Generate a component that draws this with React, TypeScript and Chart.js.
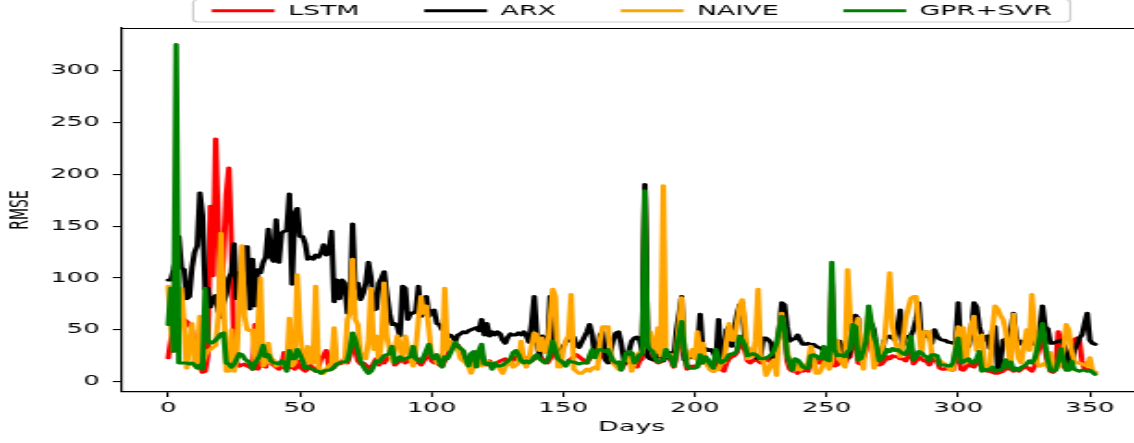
import React, { useEffect, useRef } from "react";
import { Chart, registerables } from "chart.js";

Chart.register(...registerables);

// Horizontal stretch of the reference picture (text and strokes look stretched sideways)
const STRETCH = 1.85;
const CANVAS_W = 620;
const CANVAS_H = 443;
const FONT = "'DejaVu Sans', sans-serif";
const LEGEND_PAD = 35;

const seriesNames = ["LSTM", "ARX", "NAIVE", "GPR+SVR"];
const seriesColors = ["#ff0000", "#000000", "#ffa500", "#008000"];
const xTickValues = [0, 50, 100, 150, 200, 250, 300, 350];
const yTickValues = [0, 50, 100, 150, 200, 250, 300];

const lstm = [
  23, 40, 60, 55, 50, 60, 60, 58, 55, 50,
  30, 20, 15, 9, 10, 25, 169, 102, 234, 150,
  85, 120, 180, 206, 130, 30, 18, 15, 16, 17,
  15, 14, 12, 55, 12, 18, 15, 14, 30, 18,
  16, 14, 12, 14, 28, 12, 16, 14, 12, 20,
  14, 12, 10, 12, 16, 12, 10, 14, 22, 25,
  30, 15, 12, 14, 20, 17, 18, 22, 18, 25,
  42, 30, 20, 17, 18, 16, 14, 12, 18, 22,
  16, 20, 18, 22, 24, 28, 16, 18, 20, 22,
  18, 20, 22, 26, 18, 22, 16, 20, 24, 28,
  20, 18, 20, 16, 15, 20, 25, 30, 35, 36,
  35, 30, 25, 20, 18, 22, 20, 16, 25, 28,
  18, 16, 20, 14, 16, 18, 20, 21, 22, 18,
  17, 22, 24, 20, 22, 24, 22, 21, 20, 22,
  24, 25, 22, 20, 18, 22, 30, 26, 20, 18,
  16, 17, 20, 22, 24, 26, 24, 22, 20, 18,
  22, 26, 24, 26, 28, 25, 22, 24, 20, 18,
  16, 14, 12, 16, 20, 22, 24, 16, 14, 20,
  22, 178, 26, 24, 22, 20, 18, 19, 22, 28,
  24, 20, 14, 24, 40, 50, 26, 12, 14, 15,
  14, 16, 22, 18, 20, 16, 12, 10, 24, 18,
  12, 10, 18, 22, 24, 25, 28, 38, 35, 30,
  20, 18, 20, 22, 20, 18, 20, 22, 20, 24,
  26, 32, 45, 58, 48, 20, 12, 10, 14, 8,
  12, 10, 12, 10, 20, 22, 20, 18, 18, 28,
  18, 16, 95, 15, 16, 20, 20, 18, 22, 24,
  45, 42, 18, 17, 22, 30, 60, 48, 35, 24,
  16, 17, 20, 24, 22, 25, 24, 24, 22, 22,
  20, 24, 36, 17, 20, 24, 22, 20, 20, 16,
  20, 22, 20, 13, 12, 12, 14, 12, 11, 22,
  36, 12, 11, 14, 18, 15, 14, 18, 24, 12,
  14, 10, 10, 9, 8, 8, 9, 10, 14, 12,
  14, 10, 12, 10, 12, 14, 14, 12, 10, 15,
  25, 35, 48, 30, 18, 10, 9, 12, 48, 40,
  15, 12, 20, 30, 40, 42, 40, 20, 12, 11,
  12, 10, 9,
];

const arx = [
  98, 98, 108, 120, 140, 110, 108, 80, 82, 110,
  125, 131, 182, 160, 89, 90, 72, 80, 83, 68,
  62, 76, 84, 100, 105, 133, 80, 105, 100, 130,
  130, 70, 118, 73, 108, 105, 115, 120, 147, 120,
  116, 156, 115, 143, 145, 146, 181, 94, 162, 167,
  140, 140, 133, 118, 120, 118, 122, 120, 124, 132,
  122, 125, 145, 77, 98, 80, 98, 95, 66, 70,
  152, 90, 95, 79, 85, 95, 115, 100, 69, 70,
  95, 100, 106, 85, 66, 55, 56, 53, 44, 92,
  90, 60, 66, 66, 68, 92, 63, 66, 82, 63,
  68, 69, 56, 55, 50, 49, 44, 45, 43, 39,
  45, 46, 48, 47, 49, 50, 51, 52, 49, 60,
  45, 56, 44, 48, 45, 48, 46, 40, 37, 43,
  46, 45, 45, 47, 45, 48, 44, 38, 56, 82,
  44, 23, 44, 35, 30, 82, 40, 31, 24, 30,
  34, 38, 40, 41, 43, 35, 33, 38, 43, 48,
  55, 45, 25, 30, 45, 48, 21, 18, 30, 40,
  47, 48, 37, 21, 18, 30, 39, 42, 43, 40,
  30, 190, 24, 22, 21, 22, 30, 26, 20, 24,
  27, 28, 22, 50, 65, 82, 21, 22, 23, 27,
  30, 31, 65, 30, 32, 30, 31, 28, 22, 60,
  21, 24, 50, 53, 34, 50, 65, 74, 76, 40,
  31, 31, 30, 24, 22, 25, 42, 42, 40, 37,
  15, 27, 50, 76, 74, 53, 39, 41, 41, 45,
  40, 36, 36, 37, 35, 36, 34, 33, 32, 30,
  26, 22, 28, 34, 39, 39, 31, 22, 23, 31,
  56, 64, 61, 22, 24, 40, 48, 56, 50, 31,
  28, 26, 40, 43, 44, 42, 40, 53, 69, 35,
  44, 43, 44, 50, 60, 76, 42, 43, 48, 45,
  37, 50, 44, 41, 40, 40, 38, 38, 37, 37,
  76, 30, 33, 34, 34, 50, 76, 72, 53, 44,
  40, 44, 32, 50, 53, 12, 18, 40, 41, 43,
  48, 66, 44, 36, 39, 38, 39, 40, 36, 40,
  44, 50, 73, 53, 51, 37, 37, 38, 39, 40,
  36, 30, 20, 15, 30, 35, 42, 45, 56, 66,
  40, 37, 36,
];

const naive = [
  92, 50, 30, 90, 90, 90, 55, 13, 37, 56,
  15, 15, 63, 18, 25, 30, 31, 33, 35, 63,
  143, 79, 10, 10, 50, 10, 23, 76, 131, 63,
  50, 49, 50, 18, 50, 100, 15, 18, 37, 18,
  21, 15, 18, 18, 15, 15, 61, 15, 18, 103,
  50, 21, 18, 34, 18, 18, 92, 15, 10, 8,
  12, 15, 18, 52, 18, 18, 19, 18, 60, 66,
  118, 60, 55, 27, 27, 22, 40, 90, 31, 44,
  19, 40, 95, 44, 31, 20, 30, 44, 35, 21,
  44, 32, 22, 15, 31, 60, 82, 66, 73, 50,
  24, 24, 18, 21, 18, 90, 31, 39, 34, 37,
  31, 22, 20, 18, 15, 8, 15, 26, 30, 15,
  18, 20, 18, 18, 18, 16, 12, 8, 14, 18,
  20, 14, 16, 18, 39, 20, 14, 22, 35, 47,
  45, 30, 42, 28, 30, 60, 89, 82, 14, 14,
  30, 40, 44, 84, 12, 10, 8, 8, 10, 12,
  10, 13, 14, 12, 40, 53, 53, 53, 28, 18,
  15, 12, 16, 20, 22, 24, 10, 18, 26, 28,
  28, 50, 45, 48, 38, 28, 52, 25, 189, 28,
  24, 26, 18, 31, 56, 81, 30, 21, 26, 31,
  22, 48, 28, 37, 18, 15, 11, 10, 11, 12,
  18, 18, 40, 56, 40, 40, 56, 73, 79, 56,
  22, 31, 24, 40, 89, 21, 21, 6, 11, 18,
  21, 6, 50, 66, 46, 31, 18, 14, 11, 16,
  11, 14, 16, 18, 34, 26, 8, 8, 12, 18,
  21, 12, 20, 40, 40, 21, 18, 14, 108, 60,
  40, 50, 61, 30, 12, 45, 66, 45, 13, 20,
  24, 30, 40, 70, 105, 53, 40, 31, 24, 37,
  60, 70, 80, 82, 82, 53, 26, 48, 48, 48,
  26, 26, 22, 20, 18, 17, 15, 11, 11, 34,
  53, 25, 52, 18, 40, 55, 63, 30, 40, 45,
  15, 12, 13, 50, 73, 70, 64, 60, 50, 30,
  15, 65, 40, 22, 18, 35, 50, 30, 84, 50,
  18, 15, 16, 18, 14, 28, 18, 12, 14, 20,
  30, 55, 50, 30, 20, 18, 18, 17, 16, 15,
  23, 10, 9,
];

const gprSvr = [
  55, 90, 29, 325, 18, 18, 18, 18, 17, 18,
  16, 13, 16, 12, 90, 40, 37, 38, 40, 43,
  46, 47, 18, 17, 14, 17, 22, 27, 26, 22,
  20, 18, 12, 18, 22, 26, 35, 24, 26, 20,
  18, 18, 17, 20, 18, 10, 30, 22, 22, 31,
  26, 20, 13, 14, 13, 12, 10, 10, 8, 10,
  11, 11, 12, 14, 17, 18, 19, 19, 20, 30,
  47, 40, 30, 20, 15, 11, 8, 10, 15, 20,
  19, 22, 25, 26, 27, 34, 18, 21, 24, 21,
  22, 23, 24, 34, 22, 20, 19, 24, 30, 36,
  24, 22, 26, 19, 14, 24, 22, 27, 32, 38,
  34, 32, 30, 22, 15, 27, 29, 14, 30, 36,
  17, 18, 18, 12, 18, 15, 15, 16, 18, 20,
  22, 28, 30, 26, 20, 18, 20, 18, 20, 24,
  26, 22, 20, 18, 20, 28, 39, 31, 22, 20,
  18, 15, 20, 19, 19, 18, 17, 18, 18, 18,
  25, 31, 23, 30, 31, 30, 29, 31, 25, 20,
  18, 19, 11, 20, 28, 29, 28, 18, 21, 26,
  27, 184, 34, 31, 29, 22, 19, 20, 21, 31,
  26, 22, 15, 30, 45, 58, 31, 15, 13, 13,
  13, 14, 26, 18, 24, 21, 16, 13, 31, 22,
  18, 20, 22, 26, 27, 27, 30, 44, 40, 35,
  25, 26, 27, 26, 24, 22, 22, 23, 24, 26,
  30, 37, 50, 63, 53, 26, 18, 11, 22, 21,
  18, 14, 13, 13, 25, 26, 25, 22, 22, 34,
  21, 20, 115, 31, 25, 26, 25, 24, 29, 31,
  55, 53, 21, 22, 30, 40, 73, 57, 44, 36,
  20, 22, 26, 31, 29, 32, 30, 31, 29, 27,
  26, 31, 44, 21, 24, 29, 28, 25, 24, 20,
  26, 26, 25, 16, 16, 16, 15, 15, 18, 30,
  42, 18, 19, 21, 22, 18, 18, 22, 29, 10,
  12, 11, 12, 14, 10, 11, 11, 13, 21, 14,
  19, 11, 13, 11, 14, 15, 17, 20, 18, 22,
  31, 44, 56, 37, 21, 11, 10, 11, 20, 32,
  21, 11, 11, 20, 12, 11, 10, 11, 11, 10,
  11, 9, 7,
];

const seriesValues = [lstm, arx, naive, gprSvr];

const frameAndSpinePlugin = {
  id: "frameAndSpine",
  afterDraw(chart: any) {
    const { ctx, chartArea } = chart;
    ctx.save();
    // top spine
    ctx.strokeStyle = "#000000";
    ctx.lineWidth = 1.1;
    ctx.beginPath();
    ctx.moveTo(chartArea.left, chartArea.top + 0.5);
    ctx.lineTo(chartArea.right, chartArea.top + 0.5);
    ctx.stroke();
    // legend frame
    const legend = chart.legend;
    const boxes = legend && legend.legendHitBoxes;
    if (boxes && boxes.length) {
      const first = boxes[0];
      const last = boxes[boxes.length - 1];
      const l = first.left - 10;
      const r = last.left + last.width + 10;
      const t = legend.top + LEGEND_PAD - 4;
      const b = legend.top + LEGEND_PAD + 14.5 + 4;
      ctx.strokeStyle = "#cccccc";
      ctx.lineWidth = 1.2;
      ctx.beginPath();
      if (ctx.roundRect) ctx.roundRect(l, t, r - l, b - t, 3);
      else ctx.rect(l, t, r - l, b - t);
      ctx.stroke();
    }
    ctx.restore();
  },
};

export default function App() {
  const canvasRef = useRef<HTMLCanvasElement | null>(null);

  useEffect(() => {
    const canvas = canvasRef.current;
    if (!canvas) return;
    const datasets = seriesNames.map((name, k) => ({
      label: name,
      data: seriesValues[k].map((v, i) => ({ x: i, y: v })),
      borderColor: seriesColors[k],
      backgroundColor: seriesColors[k],
      pointBorderColor: seriesColors[k],
      pointBackgroundColor: seriesColors[k],
      borderWidth: 3,
      pointBorderWidth: 3,
      pointRadius: 0,
      pointHoverRadius: 0,
      tension: 0,
      borderJoinStyle: "round" as const,
      borderCapStyle: "round" as const,
      fill: false,
      order: seriesNames.length - k,
    }));

    const tickFont = { family: FONT, size: 14 };
    const titleFont = { family: FONT, size: 14.5 };

    const chart = new Chart(canvas, {
      type: "line",
      data: { datasets },
      options: {
        animation: false,
        responsive: false,
        devicePixelRatio: 1,
        events: [],
        layout: { padding: { top: -31.5, left: 0, right: 3, bottom: 0 } },
        plugins: {
          legend: {
            position: "top",
            fullSize: false,
            labels: {
              usePointStyle: true,
              pointStyle: "line",
              pointStyleWidth: 34,
              padding: LEGEND_PAD,
              color: "#000000",
              font: { family: FONT, size: 14.5 },
              sort: (a: any, b: any) => a.datasetIndex - b.datasetIndex,
            },
          },
          tooltip: { enabled: false },
        },
        scales: {
          x: {
            type: "linear",
            min: -17.6,
            max: 369.6,
            afterBuildTicks: (scale: any) => {
              scale.ticks = xTickValues.map((v) => ({ value: v }));
            },
            afterFit: (scale: any) => {
              scale.height = 51;
            },
            ticks: {
              autoSkip: false,
              maxRotation: 0,
              minRotation: 0,
              padding: 3,
              color: "#000000",
              font: tickFont,
            },
            grid: {
              drawOnChartArea: false,
              drawTicks: true,
              tickLength: 5,
              color: "#000000",
              lineWidth: 1.1,
            },
            border: { display: true, color: "#000000", width: 1.2 },
            title: {
              display: true,
              text: "Days",
              color: "#000000",
              font: titleFont,
              padding: { top: 0, bottom: 7.5 },
            },
          },
          y: {
            type: "linear",
            min: -10,
            max: 341,
            afterBuildTicks: (scale: any) => {
              scale.ticks = yTickValues.map((v) => ({ value: v }));
            },
            afterFit: (scale: any) => {
              scale.width = 65.9;
            },
            ticks: {
              padding: 7,
              color: "#000000",
              font: tickFont,
            },
            grid: {
              drawOnChartArea: false,
              drawTicks: true,
              tickLength: 5,
              color: "#000000",
              lineWidth: 1.1,
            },
            border: { display: true, color: "#000000", width: 1.2 },
            title: {
              display: true,
              text: "RMSE",
              color: "#000000",
              font: { family: FONT, size: 14 },
              padding: { top: 3, bottom: 0 },
            },
          },
        },
      },
      plugins: [frameAndSpinePlugin],
    } as any);

    return () => {
      chart.destroy();
    };
  }, []);

  return (
    <div
      style={{
        position: "absolute",
        left: 0,
        top: 0,
        width: 1134,
        height: CANVAS_H,
        overflow: "hidden",
        background: "#ffffff",
      }}
    >
      <div
        style={{
          width: CANVAS_W,
          height: CANVAS_H,
          transform: `scaleX(${STRETCH})`,
          transformOrigin: "0 0",
        }}
      >
        <canvas
          ref={canvasRef}
          width={CANVAS_W}
          height={CANVAS_H}
          style={{ width: CANVAS_W, height: CANVAS_H, display: "block" }}
        />
      </div>
    </div>
  );
}
